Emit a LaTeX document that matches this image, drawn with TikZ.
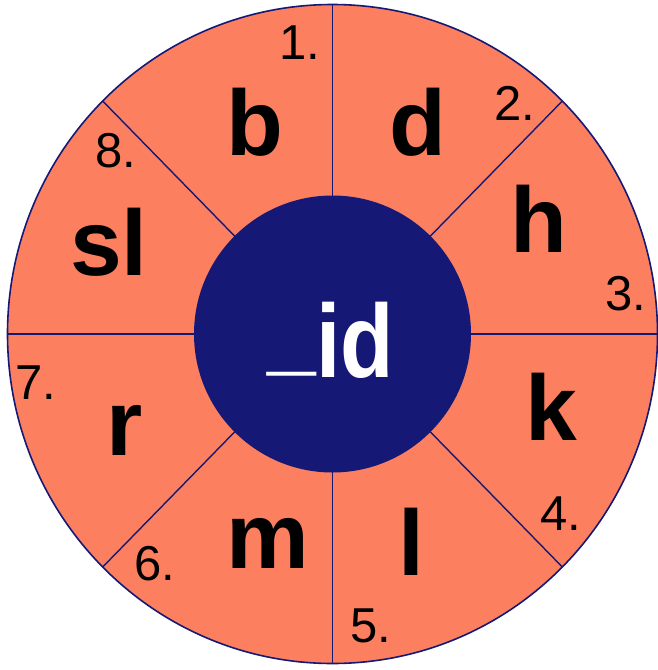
\documentclass[tikz,border=0pt]{standalone}
\usepackage{fontspec}
\setmainfont{Liberation Sans}
\usetikzlibrary{calc}
\definecolor{wedge}{RGB}{252,128,96}
\definecolor{deepblue}{RGB}{21,25,117}
\begin{document}
\begin{tikzpicture}[x=1pt,y=-1pt,
  letter/.style={anchor=base,inner sep=0pt,font=\fontsize{93}{93}\selectfont\bfseries},
  num/.style={anchor=base,inner sep=0pt,font=\fontsize{49}{49}\selectfont},
  spoke/.style={draw=deepblue,line width=1.4pt},
  rim/.style={fill=wedge,draw=deepblue,line width=1.6pt}]
\useasboundingbox (0,0) rectangle (657,670);
\fill[white] (0,0) rectangle (657,670);
\coordinate (c) at (332.5,334);
\draw[rim] (c) ellipse [x radius=325, y radius=329.5];
\foreach \a/\n in {0/a,45/b,90/c,135/d,180/e,225/f,270/g,315/h}{
  \coordinate (in\n) at ($(c)+(\a:136 and 136)$);
  \coordinate (out\n) at ($(c)+(\a:325 and 329.5)$);
  \draw[spoke] (in\n) -- (out\n);
}
\node[circle,fill=deepblue,minimum size=277pt,inner sep=0pt] (hub) at (c) {};
\node[anchor=base,inner sep=0pt,text=white,font=\fontsize{104}{104}\selectfont\bfseries] (id) at (331,377) {\scalebox{0.84}[1]{\raisebox{14pt}{\_}id}};
\node[letter] (lb) at (255,155) {b};
\node[letter] (ld) at (418,155) {d};
\node[letter] (lh) at (539,252) {h};
\node[letter] (lk) at (551,440) {k};
\node[letter] (ll) at (411,575) {l};
\node[letter] (lm) at (268,568) {m};
\node[letter] (lr) at (125,455) {r};
\node[letter] (lsl) at (109,275) {sl};
\node[num] (n1) at (300,59) {1.};
\node[num] (n2) at (515,120) {2.};
\node[num] (n3) at (626,310) {3.};
\node[num] (n4) at (561,530) {4.};
\node[num] (n5) at (371,642) {5.};
\node[num] (n6) at (155,580) {6.};
\node[num] (n7) at (36,399) {7.};
\node[num] (n8) at (116,167) {8.};
\end{tikzpicture}
\end{document}
